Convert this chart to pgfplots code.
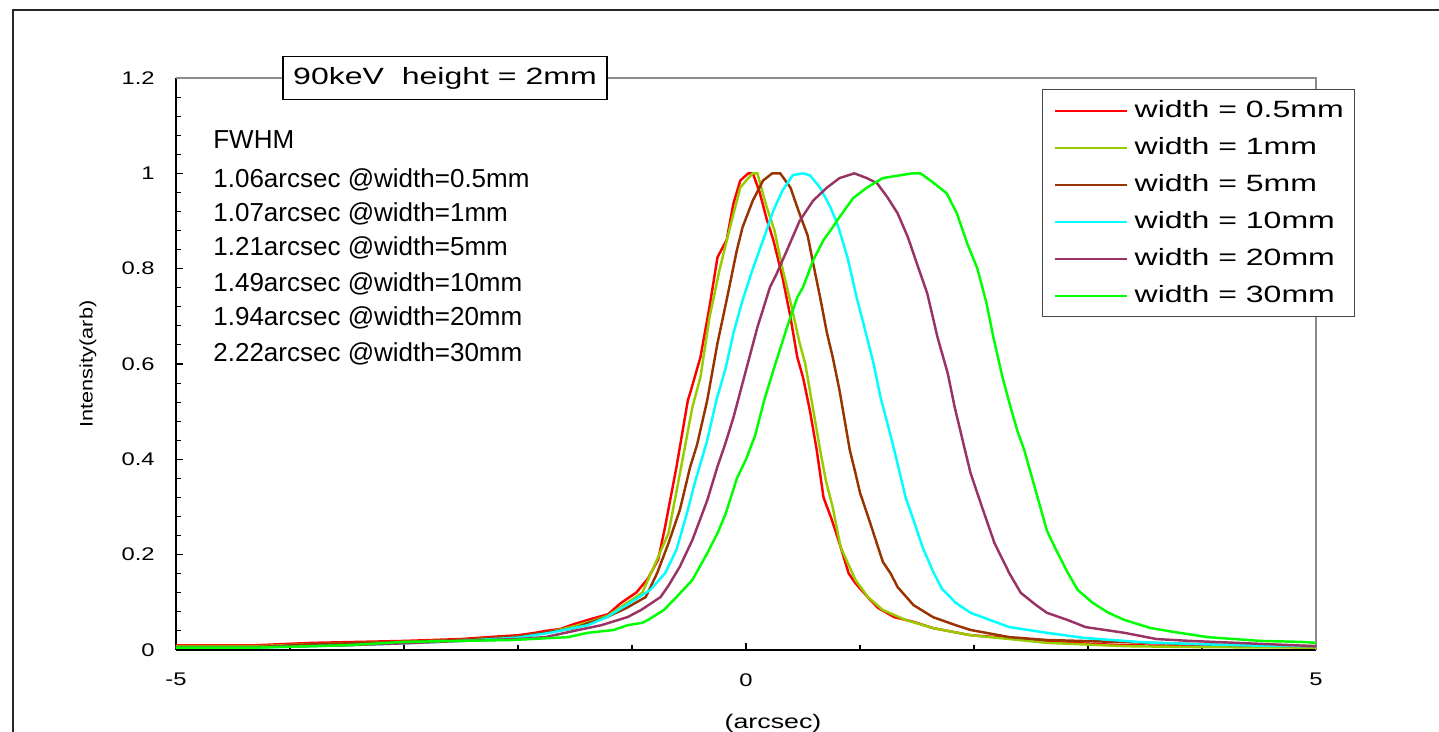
\documentclass[border=0pt]{standalone}
\usepackage{fontspec}
\setmainfont{Liberation Sans}
\newfontfamily\wide[FakeStretch=1.36]{Liberation Sans}
\newfontfamily\tickf[FakeStretch=1.3]{Liberation Sans}
\newfontfamily\ylabf[FakeStretch=1.2]{Liberation Sans}
\usepackage{pgfplots}
\pgfplotsset{compat=1.18}

\definecolor{cRed}{HTML}{FF0000}
\definecolor{cYel}{HTML}{99CC00}
\definecolor{cBrn}{HTML}{993300}
\definecolor{cCyn}{HTML}{00FFFF}
\definecolor{cPur}{HTML}{993366}
\definecolor{cGrn}{HTML}{00FF00}
\definecolor{frame}{HTML}{8C8C8C}

\begin{document}
\begin{tikzpicture}
  \begin{axis}[
    at={(0,0)}, anchor=south west, scale only axis,
    width=22.8cm, height=11.44cm,
    xmin=-5, xmax=5, ymin=0, ymax=1.2,
    axis x line*=bottom, axis y line*=left,
    axis line style={line width=1.1pt, black},
    xtick={-5,0,5}, minor xtick={-4,-3,-2,-1,1,2,3,4},
    ytick={0,0.2,0.4,0.6,0.8,1,1.2}, minor y tick num=4,
    tick align=inside,
    major tick length=0.14cm, minor tick length=0.1cm,
    tick style={line width=0.6pt, black},
    ticklabel style={font=\tickf\fontsize{10.4}{12}\selectfont},
    /pgf/number format/assume math mode=true,
    yticklabel style={inner sep=0pt, anchor=east, xshift=-0.42cm},
    xticklabel style={inner sep=0pt, anchor=north, yshift=-0.46cm},
    xlabel={(arcsec)}, ylabel={Intensity(arb)},
    xlabel style={at={(axis description cs:0.5237,-0.1276)}, anchor=center,
      inner sep=0pt, font=\wide\fontsize{11.2}{13}\selectfont},
    ylabel style={at={(axis description cs:-0.0772,0.5)}, anchor=center,
      inner sep=0pt, font=\ylabf\fontsize{10.3}{12}\selectfont},
    clip mode=individual,
    every axis plot/.append style={line width=1.4pt},
    legend image code/.code={\draw[#1, line width=1.2pt] (0cm,0cm) -- (1.44cm,0cm);},
    legend cell align=left,
    legend style={at={(axis description cs:0.7596,0.9808)}, anchor=north west,
      draw={rgb,255:red,70;green,70;blue,70}, line width=0.7pt, fill=white,
      inner xsep=0.22cm, inner ysep=0.05cm, row sep=0pt, column sep=0.14cm,
      font=\wide\fontsize{13.4}{16}\selectfont,
      nodes={inner sep=0pt, text height=0.5cm, text depth=0.24cm}},
  ]
    % plot frame: top and right in grey
    \draw[frame, line width=1.2pt] (rel axis cs:0,1) -- (rel axis cs:1,1) -- (rel axis cs:1,0);

    \addplot[cRed] coordinates {
      (-5,0.010) (-4.3,0.010) (-3.8,0.015) (-3.0,0.019) (-2.5,0.023) (-2.2,0.028)
      (-2.0,0.031) (-1.85,0.036) (-1.76,0.040) (-1.63,0.044) (-1.5,0.055) (-1.36,0.065)
      (-1.21,0.075) (-1.10,0.098) (-0.96,0.121) (-0.86,0.150) (-0.77,0.190) (-0.71,0.258)
      (-0.61,0.384) (-0.51,0.524) (-0.49,0.539) (-0.40,0.614) (-0.32,0.72) (-0.25,0.824)
      (-0.17,0.86) (-0.11,0.937) (-0.05,0.985) (0.02,1.0) (0.06,1.0) (0.12,0.96)
      (0.18,0.905) (0.24,0.86) (0.32,0.782) (0.39,0.698) (0.45,0.614) (0.50,0.572)
      (0.56,0.503) (0.62,0.42) (0.68,0.32) (0.75,0.275) (0.82,0.224) (0.90,0.161)
      (0.96,0.14) (1.09,0.105) (1.16,0.088) (1.30,0.069) (1.47,0.059) (1.64,0.046)
      (1.97,0.031) (2.31,0.025) (2.64,0.017) (3.32,0.010) (4.0,0.008) (5.0,0.006)};
    \addlegendentry{width = 0.5mm}

    \addplot[cYel] coordinates {
      (-5,0.008) (-4.3,0.008) (-3.8,0.012) (-3.0,0.017) (-2.5,0.021) (-2.0,0.028)
      (-1.76,0.036) (-1.5,0.050) (-1.36,0.060) (-1.21,0.072) (-1.10,0.090) (-0.91,0.12)
      (-0.78,0.19) (-0.68,0.245) (-0.58,0.37) (-0.47,0.51) (-0.40,0.572) (-0.32,0.698)
      (-0.23,0.80) (-0.14,0.887) (-0.05,0.97) (0.02,0.99) (0.06,1.0) (0.10,1.0)
      (0.18,0.93) (0.25,0.88) (0.32,0.80) (0.40,0.72) (0.47,0.644) (0.52,0.60)
      (0.59,0.503) (0.65,0.42) (0.70,0.356) (0.76,0.30) (0.83,0.216) (0.96,0.147)
      (1.07,0.111) (1.20,0.084) (1.40,0.063) (1.64,0.046) (1.97,0.031) (2.31,0.023)
      (2.64,0.015) (3.32,0.008) (4.0,0.006) (5.0,0.005)};
    \addlegendentry{width = 1mm}

    \addplot[cBrn] coordinates {
      (-5,0.006) (-4.3,0.006) (-3.8,0.012) (-3.0,0.017) (-2.5,0.021) (-2.0,0.028)
      (-1.5,0.046) (-1.39,0.056) (-1.22,0.069) (-1.05,0.088) (-0.88,0.111) (-0.78,0.161)
      (-0.68,0.224) (-0.58,0.294) (-0.49,0.384) (-0.43,0.43) (-0.34,0.524) (-0.25,0.644)
      (-0.17,0.734) (-0.08,0.839) (-0.03,0.887) (0.06,0.943) (0.15,0.985) (0.23,1.0)
      (0.30,1.0) (0.39,0.97) (0.47,0.915) (0.54,0.87) (0.59,0.81) (0.65,0.74)
      (0.71,0.665) (0.76,0.615) (0.82,0.545) (0.91,0.42) (0.96,0.371) (1.00,0.33)
      (1.09,0.266) (1.20,0.185) (1.27,0.16) (1.33,0.132) (1.47,0.094) (1.64,0.069)
      (1.84,0.052) (1.97,0.042) (2.31,0.027) (2.64,0.021) (3.55,0.015) (4.3,0.010)
      (5.0,0.008)};
    \addlegendentry{width = 5mm}

    \addplot[cCyn] coordinates {
      (-5,0.005) (-4.3,0.005) (-3.5,0.010) (-3.0,0.014) (-2.5,0.019) (-2.0,0.026)
      (-1.72,0.036) (-1.39,0.052) (-1.22,0.069) (-1.05,0.094) (-0.84,0.126) (-0.71,0.161)
      (-0.61,0.21) (-0.51,0.294) (-0.45,0.35) (-0.34,0.44) (-0.26,0.524) (-0.18,0.59)
      (-0.11,0.665) (-0.03,0.734) (0.06,0.80) (0.15,0.86) (0.24,0.922) (0.32,0.964)
      (0.41,0.996) (0.50,1.0) (0.56,0.996) (0.65,0.97) (0.74,0.929) (0.80,0.895)
      (0.89,0.824) (0.97,0.74) (1.03,0.685) (1.12,0.60) (1.18,0.53) (1.24,0.476)
      (1.30,0.42) (1.40,0.32) (1.47,0.272) (1.55,0.215) (1.64,0.165) (1.72,0.128)
      (1.84,0.099) (1.97,0.078) (2.14,0.063) (2.31,0.048) (2.64,0.036) (2.98,0.025)
      (3.5,0.016) (4.0,0.012) (4.5,0.009) (5.0,0.008)};
    \addlegendentry{width = 10mm}

    \addplot[cPur] coordinates {
      (-5,0.006) (-4.3,0.006) (-3.5,0.010) (-3.0,0.014) (-2.5,0.019) (-2.0,0.023)
      (-1.76,0.027) (-1.47,0.042) (-1.27,0.052) (-1.04,0.069) (-0.92,0.084) (-0.75,0.111)
      (-0.68,0.135) (-0.58,0.175) (-0.47,0.231) (-0.34,0.314) (-0.25,0.385) (-0.18,0.434)
      (-0.11,0.488) (-0.03,0.56) (0.10,0.677) (0.21,0.761) (0.27,0.79)
      (0.36,0.839) (0.47,0.90) (0.59,0.943) (0.71,0.97) (0.82,0.99) (0.95,1.0)
      (1.06,0.99) (1.15,0.979) (1.24,0.95) (1.33,0.916) (1.42,0.866) (1.50,0.81)
      (1.59,0.748) (1.68,0.656) (1.77,0.58) (1.83,0.51) (1.92,0.42)
      (1.97,0.371) (2.07,0.30) (2.18,0.224) (2.31,0.161) (2.41,0.12) (2.54,0.095)
      (2.64,0.078) (2.82,0.063) (2.98,0.048) (3.32,0.036) (3.6,0.023) (3.9,0.019)
      (4.3,0.015) (5.0,0.008)};
    \addlegendentry{width = 20mm}

    \addplot[cGrn] coordinates {
      (-5,0.005) (-4.3,0.005) (-3.5,0.010) (-3.0,0.017) (-2.05,0.021) (-1.56,0.027)
      (-1.39,0.036) (-1.16,0.042) (-1.04,0.052) (-0.91,0.057) (-0.86,0.063) (-0.72,0.084)
      (-0.61,0.111) (-0.47,0.147) (-0.34,0.203) (-0.25,0.245) (-0.18,0.285) (-0.08,0.36)
      (0.00,0.40) (0.08,0.45) (0.16,0.524) (0.24,0.587) (0.36,0.677)
      (0.45,0.74) (0.50,0.761) (0.59,0.818) (0.68,0.86) (0.74,0.88) (0.82,0.908)
      (0.94,0.948) (1.06,0.97) (1.20,0.99) (1.46,1.0) (1.53,1.0) (1.64,0.981)
      (1.76,0.958) (1.85,0.916) (1.94,0.853) (2.03,0.80) (2.11,0.727) (2.17,0.656)
      (2.25,0.572) (2.32,0.51) (2.38,0.46) (2.44,0.42) (2.54,0.335) (2.64,0.25)
      (2.71,0.215) (2.82,0.163) (2.91,0.126) (3.04,0.099) (3.18,0.078) (3.32,0.063)
      (3.55,0.046) (3.75,0.038) (4.05,0.027) (4.28,0.023) (4.52,0.019) (4.87,0.017)
      (5.0,0.015)};
    \addlegendentry{width = 30mm}
  \end{axis}

  % outer chart frame (top and left edges visible)
  \draw[line width=1.4pt, black!85] (-3.26,-1.64) -- (-3.26,12.8) -- (25.26,12.8);

  % title box on the top edge of the plot area
  \node[draw, line width=0.8pt, fill=white, minimum width=6.48cm, minimum height=0.86cm,
        inner sep=0pt, font=\wide\fontsize{13.4}{16}\selectfont] at (5.38,11.44)
        {90keV\ \ height = 2mm};

  % FWHM notes
  \begin{scope}[every node/.style={anchor=west, inner sep=0pt, font=\fontsize{14.8}{17}\selectfont}]
    \node at (0.74,10.2) {FWHM};
    \node at (0.74,9.4)  {1.06arcsec @width=0.5mm};
    \node at (0.74,8.72) {1.07arcsec @width=1mm};
    \node at (0.74,8.04) {1.21arcsec @width=5mm};
    \node at (0.74,7.32) {1.49arcsec @width=10mm};
    \node at (0.74,6.64) {1.94arcsec @width=20mm};
    \node at (0.74,5.92) {2.22arcsec @width=30mm};
  \end{scope}

  \pgfresetboundingbox
  \path[use as bounding box] (-3.52,-1.64) rectangle (25.26,13.0);
\end{tikzpicture}
\end{document}
